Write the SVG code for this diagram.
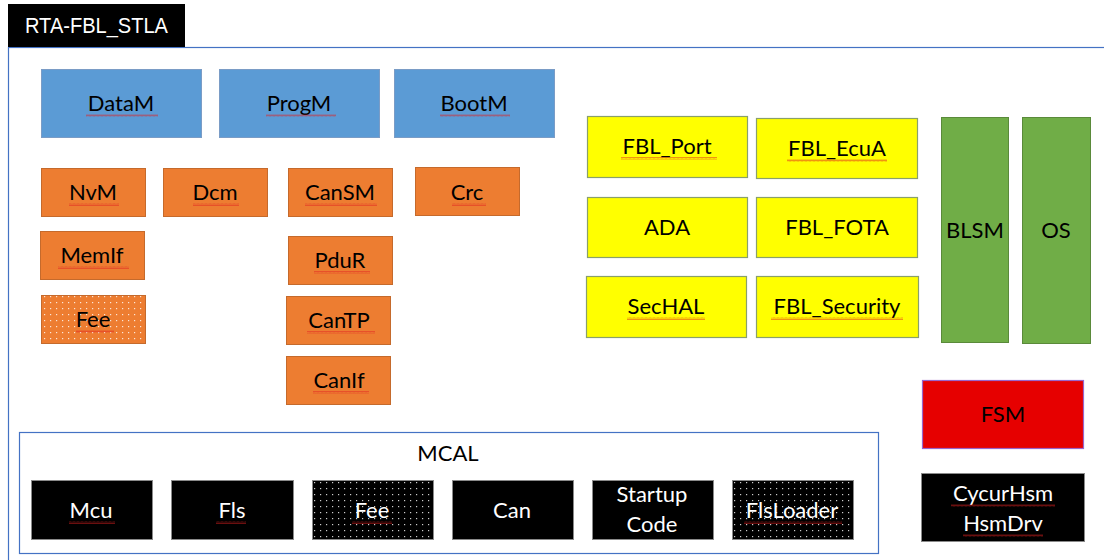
<svg xmlns="http://www.w3.org/2000/svg" width="1104" height="560" viewBox="0 0 1104 560">
<defs>
<pattern id="dotsW" width="6" height="6" patternUnits="userSpaceOnUse">
<rect x="2" y="2" width="1.2" height="1.2" fill="#ffffff" fill-opacity="0.8"/>
</pattern>
<pattern id="wave" width="4" height="3" patternUnits="userSpaceOnUse">
<path d="M0,2.5 L1,0.5 L2,2.5 L3,0.5 L4,2.5" fill="none" stroke="#e02020" stroke-width="0.6" stroke-opacity="0.8"/>
</pattern>
<style>
.t{font-family:Lato,"Open Sans","Liberation Sans",sans-serif;font-size:22px;text-anchor:middle;fill:#000}
.tw{font-family:Lato,"Open Sans","Liberation Sans",sans-serif;font-size:22px;text-anchor:middle;fill:#fff}
.blue{fill:#5B9BD5;stroke:#7A9CC6;stroke-width:1}
.orange{fill:#ED7D31;stroke:#C56A2C;stroke-width:1}
.yellow{fill:#FFFF00;stroke:#8AA06A;stroke-width:1.2}
.green{fill:#70AD47;stroke:#5A8A3A;stroke-width:1}
.black{fill:#000;stroke:#8a8a8a;stroke-width:1}
.sq{fill:url(#wave)}
</style>
</defs>
<rect x="0" y="0" width="1104" height="560" fill="#fff"/>

<g id="container">
<rect x="8.5" y="47.5" width="1110" height="530" fill="none" stroke="#4472C4" stroke-width="1.2"/>
</g>
<g id="title">
<rect x="8" y="4" width="177" height="43" fill="#000"/>
<text x="25" y="33" font-family="'Liberation Sans Narrow','Liberation Sans',sans-serif" font-size="22" fill="#fff" textLength="143" lengthAdjust="spacingAndGlyphs">RTA-FBL_STLA</text>
</g>

<g id="DataM"><rect class="blue" x="41.5" y="69.5" width="160" height="68"/><text class="t" x="121" y="111">DataM</text><rect class="sq" x="86" y="114" width="72" height="3"/></g>
<g id="ProgM"><rect class="blue" x="219.5" y="69.5" width="160" height="68"/><text class="t" x="299" y="111">ProgM</text><rect class="sq" x="266" y="114" width="70" height="3"/></g>
<g id="BootM"><rect class="blue" x="394.5" y="69.5" width="160" height="68"/><text class="t" x="474" y="111">BootM</text><rect class="sq" x="440" y="114" width="70" height="3"/></g>

<g id="NvM"><rect class="orange" x="41.5" y="168.5" width="104" height="48"/><text class="t" x="93" y="200">NvM</text><rect class="sq" x="69" y="203" width="50" height="3"/></g>
<g id="Dcm"><rect class="orange" x="163.5" y="168.5" width="104" height="48"/><text class="t" x="215" y="200">Dcm</text><rect class="sq" x="193" y="203" width="46" height="3"/></g>
<g id="CanSM"><rect class="orange" x="288.5" y="168.5" width="104" height="48"/><text class="t" x="340" y="200">CanSM</text><rect class="sq" x="305" y="203" width="72" height="3"/></g>
<g id="Crc"><rect class="orange" x="415.5" y="167.5" width="104" height="48"/><text class="t" x="467" y="200">Crc</text><rect class="sq" x="452" y="203" width="34" height="3"/></g>
<g id="MemIf"><rect class="orange" x="40.5" y="231.5" width="104" height="48"/><text class="t" x="92" y="263">MemIf</text><rect class="sq" x="58" y="266" width="71" height="3"/></g>
<g id="PduR"><rect class="orange" x="288.5" y="236.5" width="104" height="48"/><text class="t" x="340" y="268">PduR</text><rect class="sq" x="314" y="271" width="56" height="3"/></g>
<g id="Fee"><rect class="orange" x="41.5" y="295.5" width="104" height="48"/><rect x="42" y="296" width="103" height="47" fill="url(#dotsW)"/><text class="t" x="93" y="327">Fee</text><rect class="sq" x="76" y="330" width="38" height="3"/></g>
<g id="CanTP"><rect class="orange" x="286.5" y="296.5" width="104" height="48"/><text class="t" x="339" y="328">CanTP</text><rect class="sq" x="307" y="331" width="68" height="3"/></g>
<g id="CanIf"><rect class="orange" x="286.5" y="356.5" width="104" height="48"/><text class="t" x="339" y="388">CanIf</text><rect class="sq" x="313" y="391" width="56" height="3"/></g>

<g id="FBL_Port"><rect class="yellow" x="587.5" y="116.5" width="160" height="61"/><text class="t" x="667" y="154">FBL_Port</text><rect class="sq" x="621" y="157" width="96" height="3"/></g>
<g id="FBL_EcuA"><rect class="yellow" x="756.5" y="118.5" width="161" height="60"/><text class="t" x="837" y="156">FBL_EcuA</text><rect class="sq" x="787" y="159" width="100" height="3"/></g>
<g id="ADA"><rect class="yellow" x="587.5" y="197.5" width="160" height="60"/><text class="t" x="667" y="235">ADA</text></g>
<g id="FBL_FOTA"><rect class="yellow" x="756.5" y="197.5" width="161" height="60"/><text class="t" x="837" y="235">FBL_FOTA</text></g>
<g id="SecHAL"><rect class="yellow" x="586.5" y="276.5" width="160" height="61"/><text class="t" x="666" y="314">SecHAL</text><rect class="sq" x="627" y="317" width="78" height="3"/></g>
<g id="FBL_Security"><rect class="yellow" x="756.5" y="276.5" width="162" height="61"/><text class="t" x="837" y="314">FBL_Security</text><rect class="sq" x="771" y="317" width="132" height="3"/></g>

<g id="BLSM"><rect class="green" x="941.5" y="117.5" width="67" height="225"/><text class="t" x="975" y="238">BLSM</text></g>
<g id="OS"><rect class="green" x="1022.5" y="117.5" width="68" height="226"/><text class="t" x="1056" y="238">OS</text></g>

<g id="FSM"><rect x="922.5" y="380.5" width="161" height="68" fill="#E60000" stroke="#9966CC" stroke-width="1.2"/><text class="t" x="1003" y="422">FSM</text></g>

<g id="CycurHsm"><rect class="black" x="921.5" y="473.5" width="163" height="68"/><text class="tw" x="1003" y="501">CycurHsm</text><rect class="sq" x="951" y="504" width="104" height="3"/><text class="tw" x="1003" y="531">HsmDrv</text><rect class="sq" x="963" y="534" width="80" height="3"/></g>

<g id="MCAL">
<rect x="19.5" y="432.5" width="859" height="121" fill="#fff" stroke="#4472C4" stroke-width="1.2"/>
<text class="t" x="448" y="461">MCAL</text>
</g>
<g id="Mcu"><rect class="black" x="31.5" y="480.5" width="121" height="59"/><text class="tw" x="91" y="518">Mcu</text><rect class="sq" x="69" y="521" width="46" height="3"/></g>
<g id="Fls"><rect class="black" x="171.5" y="480.5" width="122" height="59"/><text class="tw" x="232" y="518">Fls</text><rect class="sq" x="216" y="521" width="30" height="3"/></g>
<g id="MCAL_Fee"><rect class="black" x="312.5" y="480.5" width="121" height="59"/><rect x="313" y="481" width="120" height="58" fill="url(#dotsW)"/><text class="tw" x="372" y="518">Fee</text><rect class="sq" x="352" y="521" width="40" height="3"/></g>
<g id="Can"><rect class="black" x="452.5" y="480.5" width="121" height="59"/><text class="tw" x="512" y="518">Can</text></g>
<g id="StartupCode"><rect class="black" x="592.5" y="480.5" width="121" height="59"/><text class="tw" x="652" y="502">Startup</text><text class="tw" x="652" y="532">Code</text></g>
<g id="FlsLoader"><rect class="black" x="732.5" y="480.5" width="121" height="59"/><rect x="733" y="481" width="120" height="58" fill="url(#dotsW)"/><text class="tw" x="792" y="518">FlsLoader</text><rect class="sq" x="744" y="521" width="98" height="3"/></g>

<g id="connectors"></g>
</svg>
